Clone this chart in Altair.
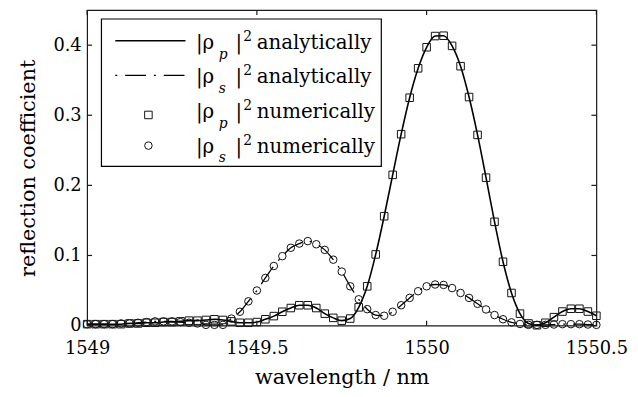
import altair as alt
import pandas as pd

# ---------------- data ----------------
wavelength = [1549.0, 1549.025, 1549.05, 1549.075, 1549.1, 1549.125, 1549.15, 1549.175,
              1549.2, 1549.225, 1549.25, 1549.275, 1549.3, 1549.325, 1549.35, 1549.375,
              1549.4, 1549.425, 1549.45, 1549.475, 1549.5, 1549.525, 1549.55, 1549.575,
              1549.6, 1549.625, 1549.65, 1549.675, 1549.7, 1549.725, 1549.75, 1549.775,
              1549.8, 1549.825, 1549.85, 1549.875, 1549.9, 1549.925, 1549.95, 1549.975,
              1550.0, 1550.025, 1550.05, 1550.075, 1550.1, 1550.125, 1550.15, 1550.175,
              1550.2, 1550.225, 1550.25, 1550.275, 1550.3, 1550.325, 1550.35, 1550.375,
              1550.4, 1550.425, 1550.45, 1550.475, 1550.5]

rho_p = [0.002, 0.002, 0.002, 0.002, 0.002, 0.003, 0.003, 0.004, 0.004, 0.005,
         0.005, 0.006, 0.007, 0.007, 0.008, 0.009, 0.008, 0.006, 0.004, 0.004,
         0.005, 0.009, 0.0135, 0.0197, 0.025, 0.029, 0.029, 0.025, 0.017, 0.011,
         0.007, 0.010, 0.026, 0.056, 0.1015, 0.156, 0.215, 0.273, 0.325, 0.367,
         0.397, 0.413, 0.4135, 0.399, 0.370, 0.326, 0.272, 0.211, 0.148, 0.091,
         0.0465, 0.017, 0.003, 0.0005, 0.004, 0.012, 0.020, 0.024, 0.024, 0.020,
         0.014]

rho_s = [0.002, 0.002, 0.002, 0.002, 0.003, 0.003, 0.004, 0.005, 0.006, 0.006,
         0.006, 0.005, 0.004, 0.003, 0.001, 0.001, 0.001, 0.010, 0.0197, 0.0346,
         0.050, 0.068, 0.085, 0.099, 0.111, 0.117, 0.1205, 0.116, 0.108, 0.094,
         0.077, 0.056, 0.0375, 0.0234, 0.015, 0.014, 0.0197, 0.029, 0.0395, 0.049,
         0.056, 0.0586, 0.058, 0.0535, 0.0465, 0.0395, 0.031, 0.023, 0.015, 0.009,
         0.0046, 0.0023, 0.001, 0.001, 0.001, 0.0015, 0.002, 0.002, 0.002, 0.0015,
         0.001]

x_ticks = [1549, 1549.5, 1550, 1550.5]
y_ticks = [0, 0.1, 0.2, 0.3, 0.4]

legend_sub = ["p", "s", "p", "s"]
legend_word = ["analytically", "analytically", "numerically", "numerically"]

x_title = "wavelength / nm"
y_title = "reflection coefficient"

# ---------------- chart ----------------
FONT = "DejaVu Serif"
W, H = 515, 319
MS = 58  # marker area

df_p = pd.DataFrame({"wl": wavelength, "r": rho_p})
df_s = pd.DataFrame({"wl": wavelength, "r": rho_s})
one = pd.DataFrame({"k": [0]})

xs = alt.Scale(domain=[1549, 1550.5], nice=False, zero=False)
ys = alt.Scale(domain=[0, 0.45], nice=False, zero=False)

x_axis = alt.Axis(values=x_ticks, format="~g", title=x_title, labelFontSize=18,
                  labelPadding=28, labelBaseline="alphabetic", labelFlush=False,
                  labelOverlap=False, titleFontSize=21, titleY=59,
                  titleBaseline="alphabetic")
y_axis = alt.Axis(values=y_ticks, format="~g", title=y_title, labelFontSize=18,
                  labelPadding=6, labelFlush=False, labelOverlap=False,
                  titleFontSize=21, titleX=-53, titleY=159.5, titleAngle=270,
                  titleBaseline="alphabetic", titleAlign="center")


def X():
    return alt.X("wl:Q", scale=xs, axis=x_axis)


def Y():
    return alt.Y("r:Q", scale=ys, axis=y_axis)


line_p = alt.Chart(df_p).mark_line(color="black", strokeWidth=1.6,
                                   interpolate="monotone").encode(x=X(), y=Y())
line_s = alt.Chart(df_s).mark_line(color="black", strokeWidth=1.3,
                                   interpolate="monotone",
                                   strokeDash=[21, 8, 2, 8]).encode(x=X(), y=Y())
pts_p = alt.Chart(df_p).mark_point(shape="square", filled=False, size=MS,
                                   color="#111", strokeWidth=1,
                                   opacity=1).encode(x=X(), y=Y())
pts_s = alt.Chart(df_s).mark_point(shape="circle", filled=False, size=MS,
                                   color="#111", strokeWidth=1,
                                   opacity=1).encode(x=X(), y=Y())

# inward tick marks (bottom, top, left, right)
df_xt = pd.DataFrame({"wl": x_ticks})
df_yt = pd.DataFrame({"r": y_ticks})
TICK = 5
tick_style = dict(color="#1a1a1a", strokeWidth=1.2)
t_bottom = alt.Chart(df_xt).mark_rule(**tick_style).encode(
    x=X(), y=alt.value(H), y2=alt.value(H - TICK))
t_top = alt.Chart(df_xt).mark_rule(**tick_style).encode(
    x=X(), y=alt.value(0), y2=alt.value(TICK))
t_left = alt.Chart(df_yt).mark_rule(**tick_style).encode(
    y=Y(), x=alt.value(0), x2=alt.value(TICK))
t_right = alt.Chart(df_yt).mark_rule(**tick_style).encode(
    y=Y(), x=alt.value(W), x2=alt.value(W - TICK))

# ---------------- custom legend ----------------
legend_layers = []
box = alt.Chart(one).mark_rect(fill="white", stroke="black", strokeWidth=1.2).encode(
    x=alt.value(14.5), x2=alt.value(297.5), y=alt.value(9), y2=alt.value(158))
legend_layers.append(box)

baselines = [39, 74, 109, 144]


def txt(s, x, y, size, italic=False):
    return alt.Chart(one).mark_text(font=FONT, fontSize=size,
                                    fontStyle="italic" if italic else "normal",
                                    align="left", baseline="alphabetic",
                                    color="black").encode(
        x=alt.value(x), y=alt.value(y), text=alt.value(s))


for i in range(4):
    b = baselines[i]
    legend_layers.append(txt("|\u03c1", 110, b, 20))
    legend_layers.append(txt(legend_sub[i], 133, b + 10, 14, italic=True))
    legend_layers.append(txt("|", 150, b, 20))
    legend_layers.append(txt("2", 158, b - 8, 14))
    legend_layers.append(txt(legend_word[i], 171.5, b, 20))

legend_layers.append(alt.Chart(one).mark_rule(color="black", strokeWidth=1.6).encode(
    x=alt.value(28.5), x2=alt.value(99.5), y=alt.value(31)))
legend_layers.append(alt.Chart(one).mark_rule(color="black", strokeWidth=1.3,
                                              strokeDash=[2, 8, 21, 8]).encode(
    x=alt.value(28.5), x2=alt.value(99.5), y=alt.value(66)))
legend_layers.append(alt.Chart(one).mark_point(shape="square", filled=False, size=MS,
                                               color="#111", strokeWidth=1,
                                               opacity=1).encode(
    x=alt.value(62), y=alt.value(106)))
legend_layers.append(alt.Chart(one).mark_point(shape="circle", filled=False, size=MS,
                                               color="#111", strokeWidth=1,
                                               opacity=1).encode(
    x=alt.value(62), y=alt.value(137)))

chart = alt.layer(line_p, line_s, pts_p, pts_s, t_bottom, t_top, t_left, t_right,
                  *legend_layers).properties(
    width=W, height=H,
    autosize=alt.AutoSizeParams(type="none"),
    padding={"left": 80, "top": 0, "right": 34, "bottom": 62},
    background="white",
).configure_axis(
    labelFont=FONT, titleFont=FONT, labelColor="black", titleColor="black",
    titleFontWeight="normal", grid=False, domain=False, ticks=False, tickSize=0,
).configure_view(stroke="#1a1a1a", strokeWidth=1.2)

chart.save("out.html", embed_options={"renderer": "svg", "actions": False})
